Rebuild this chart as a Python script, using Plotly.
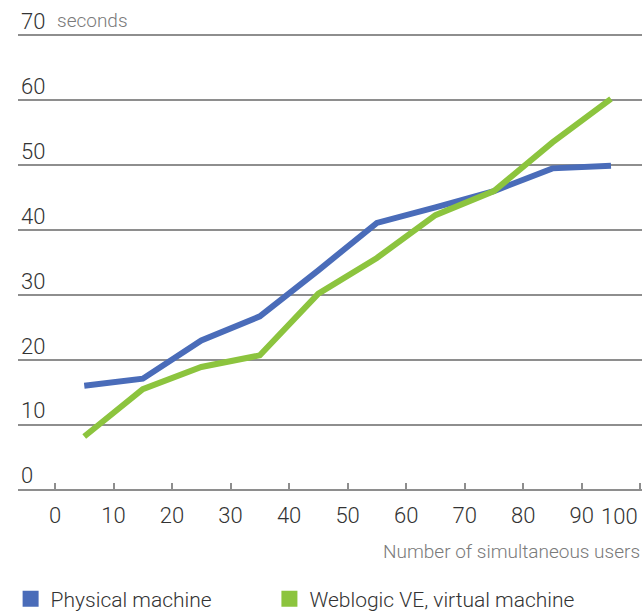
import plotly.graph_objects as go

users = [5, 15, 25, 35, 45, 55, 65, 75, 85, 95]
physical = [16.0, 17.1, 23.0, 26.7, 33.8, 41.1, 43.5, 46.0, 49.5, 49.9]
virtual = [8.2, 15.5, 18.9, 20.7, 30.2, 35.7, 42.3, 46.0, 53.5, 60.2]
series_names = ["Physical machine", "Weblogic VE, virtual machine"]
x_ticks = [0, 10, 20, 30, 40, 50, 60, 70, 80, 90, 100]
y_ticks = [0, 10, 20, 30, 40, 50, 60, 70]

BLUE = "#4a6cb9"
GREEN = "#8cc43e"
GRID = "#8e8e8e"
FONT = "Roboto, sans-serif"

fig = go.Figure()
for name, vals, col in [(series_names[0], physical, BLUE), (series_names[1], virtual, GREEN)]:
    fig.add_trace(go.Scatter(x=users, y=vals, mode="lines", line=dict(color=col, width=6),
                             showlegend=False, hoverinfo="skip"))
for name, col, lg in [(series_names[0], BLUE, "legend"), (series_names[1], GREEN, "legend2")]:
    fig.add_trace(go.Scatter(x=[None], y=[None], mode="markers", name=name, legend=lg,
                             marker=dict(symbol="square", size=16, color=col)))

# last tick label is placed separately (right-aligned to the tick) so it stays inside the page
xtext = [str(v) for v in x_ticks]
last_label = xtext[-1]
xtext[-1] = ""

legend_common = dict(orientation="h", xref="container", yref="container", xanchor="left",
                     y=0.026, yanchor="middle", bgcolor="rgba(0,0,0,0)",
                     font=dict(size=21, color="#333333", weight=300), itemsizing="trace")

fig.update_layout(
    width=643, height=615,
    margin=dict(l=18, r=1.25, t=33.7, b=124.4, autoexpand=False),
    paper_bgcolor="white", plot_bgcolor="white",
    font=dict(family=FONT, color="#333333", size=22, weight=300),
    xaxis=dict(range=[-6.32, 100.3], tickvals=x_ticks, ticktext=xtext,
               showgrid=False, zeroline=False, showline=False,
               ticks="inside", ticklen=8, tickwidth=1.5, tickcolor=GRID,
               tickfont=dict(size=22, color="#333333", weight=300), ticklabelstandoff=9),
    yaxis=dict(range=[-0.2, 70.2], tickvals=y_ticks, showgrid=True, gridcolor=GRID, gridwidth=1.5,
               zeroline=False, showline=False, ticks="",
               ticklabelposition="inside", ticklabelshift=-14, ticklabeloverflow="allow",
               tickfont=dict(size=22, color="#333333", weight=300)),
    legend=dict(x=0.0165, **legend_common),
    legend2=dict(x=0.419, **legend_common),
    annotations=[
        dict(text="seconds", xref="x", x=0, xanchor="left", yref="y", y=70, yanchor="middle",
             yshift=15, showarrow=False, font=dict(size=19, color="#7a7a7a", weight=300)),
        dict(text=last_label, xref="x", x=x_ticks[-1], xanchor="right", xshift=0,
             yref="paper", y=0, yanchor="middle", yshift=-25, showarrow=False,
             font=dict(size=22, color="#333333", weight=300)),
        dict(text="Number of simultaneous users", xref="paper", x=1, xanchor="right",
             yref="paper", y=0, yanchor="middle", yshift=-60, showarrow=False,
             font=dict(size=19, color="#7a7a7a", weight=300)),
    ],
)
fig.write_html("out.html", config={"displayModeBar": False},
               post_script="document.body.style.margin='0';")
